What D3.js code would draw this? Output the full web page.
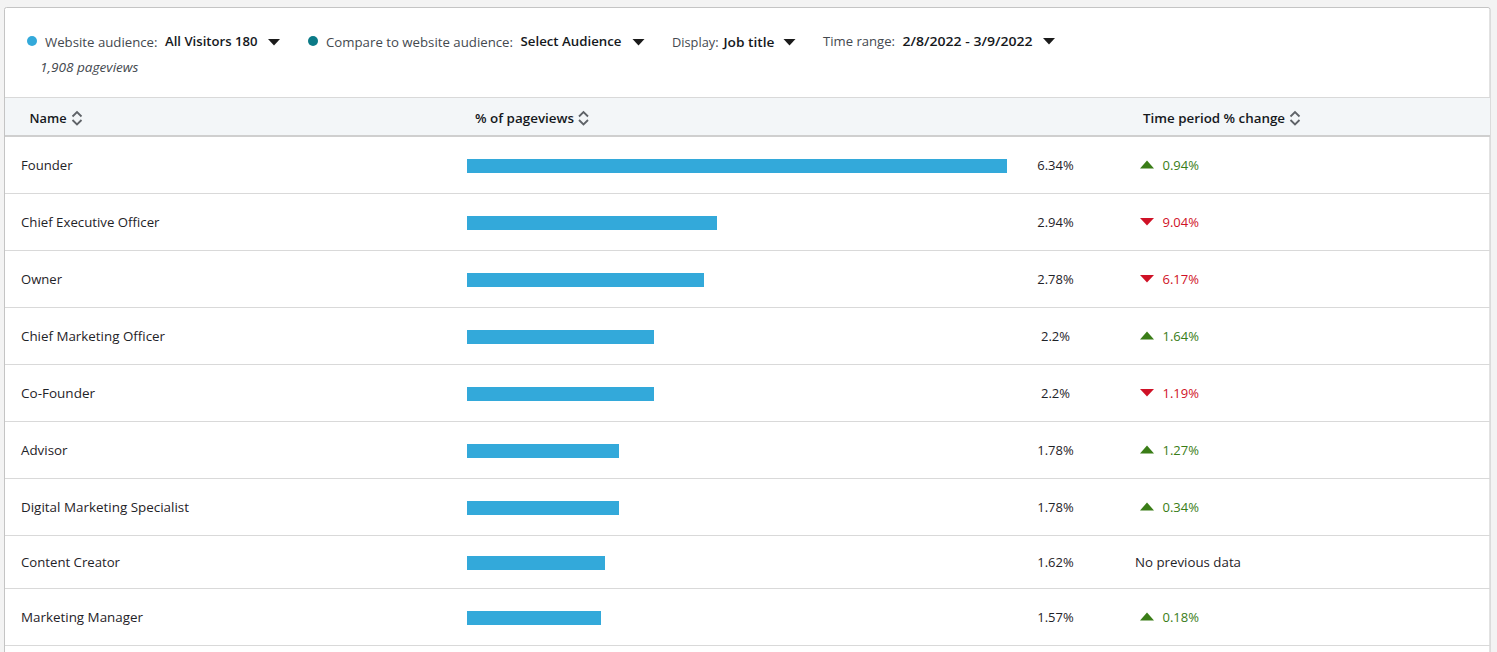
<!DOCTYPE html>
<html><head><meta charset="utf-8">
<script src="https://cdnjs.cloudflare.com/ajax/libs/d3/7.8.5/d3.min.js"></script>
<style>
html,body{margin:0;padding:0;background:#f3f3f3;overflow:hidden}
svg{display:block}
text{font-family:"Open Sans","Noto Sans",sans-serif;font-size:13px;fill:#1f2328}
.b{font-weight:600;fill:#15181c}
.l{fill:#44494f}
</style></head><body>
<svg id="c" width="1497" height="652"></svg>
<script>
const names=["Founder","Chief Executive Officer","Owner","Chief Marketing Officer","Co-Founder","Advisor","Digital Marketing Specialist","Content Creator","Marketing Manager"];
const pageviewShare=[6.34,2.94,2.78,2.2,2.2,1.78,1.78,1.62,1.57];
const periodChange=[0.94,-9.04,-6.17,1.64,-1.19,1.27,0.34,null,0.18];
const columns=["Name","% of pageviews","Time period % change"];

const svg=d3.select("#c");
const x=d3.scaleLinear().domain([0,6.34]).range([467,1007]);
// card
svg.append("rect").attr("x",4.5).attr("y",7.5).attr("width",1485.5).attr("height",660).attr("rx",2).attr("fill","#fff").attr("stroke","#c4c4c4");
// header band
svg.append("rect").attr("x",5).attr("y",97.5).attr("width",1485).attr("height",38).attr("fill","#f3f6f8");
svg.append("line").attr("x1",5).attr("x2",1490).attr("y1",97.5).attr("y2",97.5).attr("stroke","#d9d9d9");
svg.append("line").attr("x1",5).attr("x2",1490).attr("y1",136).attr("y2",136).attr("stroke","#cfcfcf").attr("stroke-width",2);

// controls
const C="#33a9da",T="#0b7a87";
function txt(s,x0,y,cls,w){const t=svg.append("text").attr("x",x0).attr("y",y).text(s);if(cls)t.attr("class",cls);if(w)t.attr("textLength",w).attr("lengthAdjust","spacingAndGlyphs");return t;}
function caret(cx,cy){svg.append("path").attr("d",d3.line()([[cx-6,cy-3],[cx+6,cy-3],[cx,cy+3.5]])+"Z").attr("fill","#1b1b1b");}
svg.append("circle").attr("cx",32).attr("cy",41).attr("r",5).attr("fill",C);
txt("Website audience:",45,46.5,"l",112.5);
txt("All Visitors 180",165,46,"b",92.5);
caret(274,42);
svg.append("circle").attr("cx",313).attr("cy",41).attr("r",5).attr("fill",T);
txt("Compare to website audience:",326,46.5,"l",187);
txt("Select Audience",520.5,46,"b",101);
caret(638.5,42);
txt("Display:",672,46.5,"l",46.5);
txt("Job title",723.5,46.5,"b",51);
caret(789.5,42);
txt("Time range:",823,46,"l",72);
txt("2/8/2022 - 3/9/2022",902.5,46,"b",130);
caret(1049,41);
txt("1,908 pageviews",40,72,"l",98.5).attr("font-style","italic");

// header labels
function sort(cx){
  const g=svg.append("g").attr("fill","none").attr("stroke","#5f6368").attr("stroke-width",1.8);
  g.append("path").attr("d",d3.line()([[cx-4.5,116.5],[cx,112],[cx+4.5,116.5]]));
  g.append("path").attr("d",d3.line()([[cx-4.5,120],[cx,124.5],[cx+4.5,120]]));
}
const hx=[29.5,475,1143],hw=[37,99,142],sx=[77,583.5,1295];
columns.forEach((c,i)=>{txt(c,hx[i],123,"b",hw[i]);sort(sx[i]);});

// rows: a row without a change figure is shorter
const nameW=[51.5,138.5,41,144,74,46.5,168,99,122];
let rowTop=136;
names.forEach((n,i)=>{
  const has=periodChange[i]!==null, h=has?57:53, cy=rowTop+(has?29.5:27.5);
  const g=svg.append("g");
  g.append("text").attr("x",21).attr("y",cy+4).text(n).attr("textLength",nameW[i]).attr("lengthAdjust","spacingAndGlyphs");
  g.append("rect").attr("x",x(0)).attr("y",cy-6.5).attr("width",Math.round(x(pageviewShare[i])-x(0))).attr("height",14).attr("fill",C);
  g.append("text").attr("x",1055.5).attr("y",cy+4).attr("text-anchor","middle").text(pageviewShare[i]+"%");
  if(has){
    const v=periodChange[i],up=v>=0,col=up?"#3a7d17":"#cf1126",a=1147,ty=cy-1;
    g.append("path").attr("d",d3.line()(up?[[a-7,ty+4],[a+7,ty+4],[a,ty-4]]:[[a-7,ty-3.5],[a+7,ty-3.5],[a,ty+4]])+"Z").attr("fill",col);
    g.append("text").attr("x",1162.5).attr("y",cy+4).text(Math.abs(v).toFixed(2)+"%").style("fill",col);
  } else {
    g.append("text").attr("x",1135).attr("y",cy+4).text("No previous data").attr("textLength",106).attr("lengthAdjust","spacingAndGlyphs");
  }
  rowTop+=h;
  svg.append("line").attr("x1",5).attr("x2",1490).attr("y1",rowTop+.5).attr("y2",rowTop+.5).attr("stroke","#d9d9d9");
});
</script></body></html>
